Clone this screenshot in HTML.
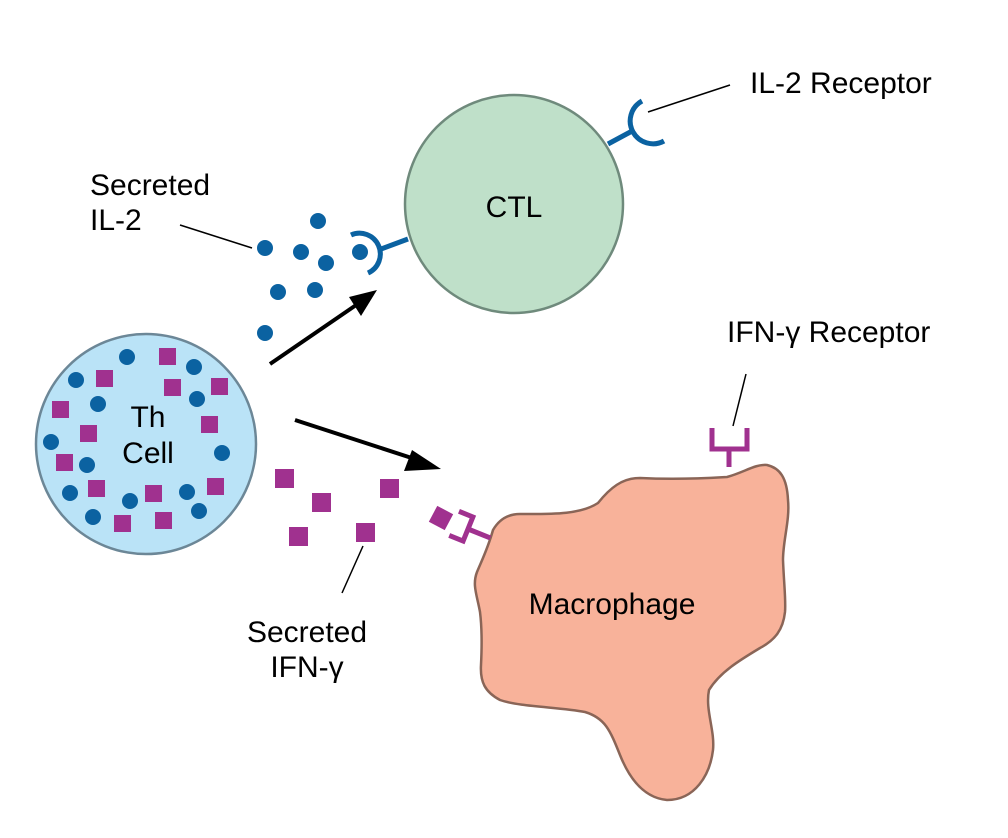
<!DOCTYPE html>
<html><head><meta charset="utf-8"><style>
html,body{margin:0;padding:0;background:#fff;}
svg{display:block;}
text{font-family:"Liberation Sans",sans-serif;fill:#000;}
</style></head><body>
<svg width="1008" height="838" viewBox="0 0 1008 838" xmlns="http://www.w3.org/2000/svg">
<!-- CTL -->
<circle cx="514" cy="204" r="109" fill="#bfe0c9" stroke="#6f8a7c" stroke-width="2.5"/>
<text x="514" y="217" font-size="30" text-anchor="middle">CTL</text>
<!-- IL-2 receptors -->
<g stroke="#0b62a1" stroke-width="5" fill="none">
<line x1="381" y1="249" x2="408" y2="239"/>
<path d="M351,235 A17,17 0 0 1 368,273"/>
<line x1="608" y1="144" x2="634" y2="130"/>
<path d="M642,101 A17,17 0 0 0 664,141"/>
</g>
<!-- IL-2 dots -->
<g fill="#0b62a1">
<circle cx="318" cy="221" r="8"/><circle cx="265" cy="248" r="8"/><circle cx="301" cy="252" r="8"/>
<circle cx="326" cy="263" r="8"/><circle cx="360" cy="252" r="8"/><circle cx="278" cy="292" r="8"/>
<circle cx="315" cy="290" r="8"/><circle cx="265" cy="333" r="8"/>
</g>
<!-- Th cell -->
<circle cx="146" cy="444" r="110" fill="#bae3f7" stroke="#6c8797" stroke-width="2.5"/>
<text x="148" y="427" font-size="30" text-anchor="middle">Th</text>
<text x="148" y="463" font-size="30" text-anchor="middle">Cell</text>
<g fill="#0b62a1">
<circle cx="127" cy="357" r="8"/><circle cx="194" cy="367" r="8"/><circle cx="76" cy="380" r="8"/>
<circle cx="98" cy="404" r="8"/><circle cx="197" cy="399" r="8"/><circle cx="51" cy="442" r="8"/>
<circle cx="222" cy="453" r="8"/><circle cx="87" cy="465" r="8"/><circle cx="70" cy="493" r="8"/>
<circle cx="130" cy="501" r="8"/><circle cx="187" cy="492" r="8"/><circle cx="199" cy="511" r="8"/>
<circle cx="93" cy="517" r="8"/>
</g>
<g fill="#a0318f">
<rect x="159" y="348" width="17" height="17"/><rect x="96" y="370" width="17" height="17"/>
<rect x="164" y="379" width="17" height="17"/><rect x="211" y="378" width="17" height="17"/>
<rect x="52" y="401" width="17" height="17"/><rect x="201" y="416" width="17" height="17"/>
<rect x="80" y="425" width="17" height="17"/><rect x="56" y="454" width="17" height="17"/>
<rect x="88" y="480" width="17" height="17"/><rect x="145" y="485" width="17" height="17"/>
<rect x="207" y="478" width="17" height="17"/><rect x="114" y="515" width="17" height="17"/>
<rect x="155" y="512" width="17" height="17"/>
<!-- secreted IFN -->
<rect x="275" y="469" width="19" height="19"/><rect x="312" y="493" width="19" height="19"/>
<rect x="380" y="479" width="19" height="19"/><rect x="289" y="527" width="19" height="19"/>
<rect x="356" y="523" width="19" height="19"/>
</g>
<!-- arrows -->
<g stroke="#000" stroke-width="4" fill="#000">
<line x1="270" y1="364" x2="362" y2="301"/>
<line x1="295" y1="420" x2="424" y2="462"/>
</g>
<polygon points="377,290 349,297 361,316" fill="#000"/>
<polygon points="441,469 412,450 404,471" fill="#000"/>
<!-- Macrophage -->
<path d="M493,530 C500,518 510,514 520,514 C550,514 580,515 598,503 C610,488 622,478 640,478 C680,480 710,478 727,477 C745,472 755,464 767,465 C780,468 787,478 788,500 C790,520 783,540 783,560 C784,585 786,600 785,612 C783,630 775,640 760,648 C740,660 720,672 709,690 C705,710 715,730 713,750 C710,775 695,800 667,800 C645,798 630,780 620,755 C610,730 605,718 585,712 C560,707 520,707 500,700 C485,692 480,682 481,665 C482,645 482,628 480,612 C477,595 472,585 477,572 C482,560 488,548 493,530 Z" fill="#f8b29a" stroke="#8a6557" stroke-width="2.5"/>
<text x="612" y="614" font-size="30" text-anchor="middle">Macrophage</text>
<!-- IFN receptors -->
<g stroke="#a0318f" stroke-width="5" fill="none">
<line x1="729" y1="467" x2="729" y2="449"/>
<path d="M712,428 V449 H747 V428"/>
<g transform="rotate(22 468 529)">
<line x1="492" y1="529" x2="468" y2="529"/>
<path d="M453,516 H468 V542 H453"/>
</g>
</g>
<rect x="432" y="509" width="18" height="18" fill="#a0318f" transform="rotate(28 441 518)"/>
<!-- leader lines -->
<g stroke="#000" stroke-width="1.5">
<line x1="648" y1="112" x2="730" y2="85"/>
<line x1="180" y1="225" x2="252" y2="248"/>
<line x1="733" y1="426" x2="746" y2="374"/>
<line x1="363" y1="546" x2="342" y2="593"/>
</g>
<!-- labels -->
<text x="750" y="93" font-size="30">IL-2 Receptor</text>
<text x="90" y="195" font-size="30">Secreted</text>
<text x="90" y="230" font-size="30">IL-2</text>
<text x="727" y="342" font-size="30">IFN-γ Receptor</text>
<text x="307" y="642" font-size="30" text-anchor="middle">Secreted</text>
<text x="307" y="677" font-size="30" text-anchor="middle">IFN-γ</text>
</svg>
</body></html>
